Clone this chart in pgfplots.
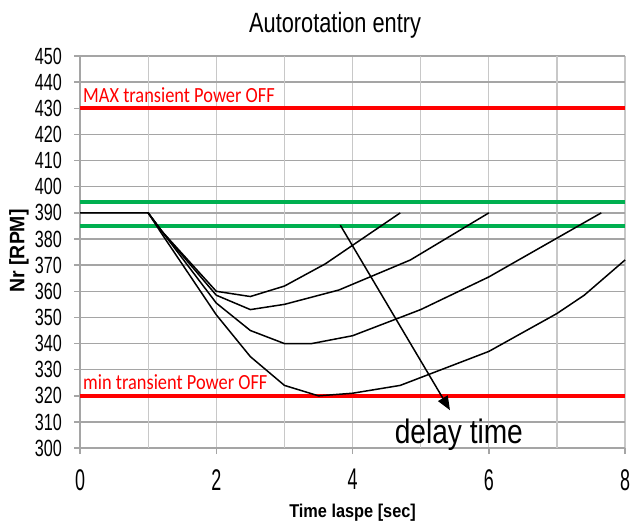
\documentclass[border=0pt]{standalone}
\usepackage{pgfplots}
\pgfplotsset{compat=1.18}
\usepackage{fontspec}
\setmainfont{Liberation Sans}
\newfontfamily\titlefont{Liberation Sans}[FakeStretch=0.78]
\newfontfamily\ytickfont{Liberation Sans}[FakeStretch=0.69]
\newfontfamily\xtickfont{Liberation Sans}[FakeStretch=0.6]
\newfontfamily\xlabfont{Liberation Sans}[FakeStretch=0.88]
\newfontfamily\ylabfont{Liberation Sans}[FakeStretch=0.93]
\newfontfamily\calib{Carlito}[FakeStretch=0.85]
\newfontfamily\delayfont{Liberation Sans}[FakeStretch=0.83]
\usetikzlibrary{arrows.meta}

\definecolor{redline}{RGB}{255,0,0}
\definecolor{greenline}{RGB}{0,176,80}
\definecolor{hgrid}{RGB}{165,165,165}
\definecolor{vgrid}{RGB}{200,200,200}

\begin{document}
\begin{tikzpicture}
\begin{axis}[
    scale only axis,
    width=545bp, height=392bp,
    xmin=0, xmax=8, ymin=300, ymax=450,
    xtick={0,2,...,8}, ytick={300,310,...,450},
    extra x ticks={1,3,5,7},
    extra x tick labels={},
    extra x tick style={major tick length=0pt, xmajorgrids=true},
    xmajorgrids, ymajorgrids,
    major x grid style={vgrid, line width=1.3bp},
    major y grid style={hgrid, line width=1.5bp},
    axis x line=bottom, axis y line=left,
    axis line style={-, hgrid, line width=1.5bp},
    tick style={hgrid, line width=1.5bp},
    major tick length=6bp,
    tick align=outside,
    /pgf/number format/assume math mode=true,
    /pgf/number format/1000 sep={},
    yticklabel style={font=\ytickfont\fontsize{23.5}{24}\selectfont, anchor=east, inner sep=0pt, xshift=-12bp},
    xticklabel style={font=\xtickfont\fontsize{30}{30}\selectfont, anchor=north, inner sep=0pt, yshift=-15bp},
    clip=false,
]
% limits
\addplot[redline, line width=4bp] coordinates {(0,430) (8,430)};
\addplot[redline, line width=4bp] coordinates {(0,320) (8,320)};
\addplot[greenline, line width=4bp] coordinates {(0,394) (8,394)};
\addplot[greenline, line width=4bp] coordinates {(0,385) (8,385)};

% rotor rpm curves
\addplot[black, line width=1.5bp] coordinates {
  (0,390) (1,390) (1.2,383) (2,360) (2.5,358) (3,362) (3.6,370.5) (4.7,390)};
\addplot[black, line width=1.5bp] coordinates {
  (1,390) (1.2,383) (2,358.5) (2.5,353) (3,355) (3.8,360.5) (4.85,372) (6,390)};
\addplot[black, line width=1.5bp] coordinates {
  (1,390) (1.2,383) (2,355.5) (2.5,345) (3,340) (3.4,340) (4,343) (5,353) (6,365.5) (7.65,390)};
\addplot[black, line width=1.5bp] coordinates {
  (1,390) (1.2,382) (2,351) (2.5,335) (3,324) (3.5,320) (4,321) (4.7,324) (6,337) (7,351.5) (7.4,358.5) (8,372)};

\node[anchor=base west, text=redline, inner sep=0pt, font=\calib\fontsize{21.7}{22}\selectfont]
  at (axis cs:0.044,432.4) {MAX transient Power OFF};
\node[anchor=base west, text=redline, inner sep=0pt, font=\calib\fontsize{21.7}{22}\selectfont]
  at (axis cs:0.044,322.4) {min transient Power OFF};

\draw[black, line width=1.5bp, -{Triangle[length=14bp, width=11bp]}]
  (axis cs:3.82,385.3) -- (axis cs:5.43,314.5);
\node[anchor=base, inner sep=0pt, font=\delayfont\fontsize{34}{34}\selectfont]
  at (axis cs:5.56,301.9) {delay time};

% titles and labels
\node[anchor=base, inner sep=0pt, font=\titlefont\fontsize{28}{28}\selectfont]
  at (axis description cs:0.468,1.061) {Autorotation entry};
\node[anchor=base, inner sep=0pt, font=\xlabfont\bfseries\fontsize{18.6}{19}\selectfont]
  at (axis description cs:0.5,-0.176) {Time laspe [sec]};
\node[anchor=center, rotate=90, inner sep=0pt, font=\ylabfont\bfseries\fontsize{21}{21}\selectfont]
  at (axis description cs:-0.112,0.503) {Nr [RPM]};

\coordinate (bl) at (axis description cs:-0.1468,-0.194);
\coordinate (tr) at (axis description cs:1.009,1.143);
\end{axis}
\pgfresetboundingbox
\path (bl) rectangle (tr);
\end{tikzpicture}
\end{document}
